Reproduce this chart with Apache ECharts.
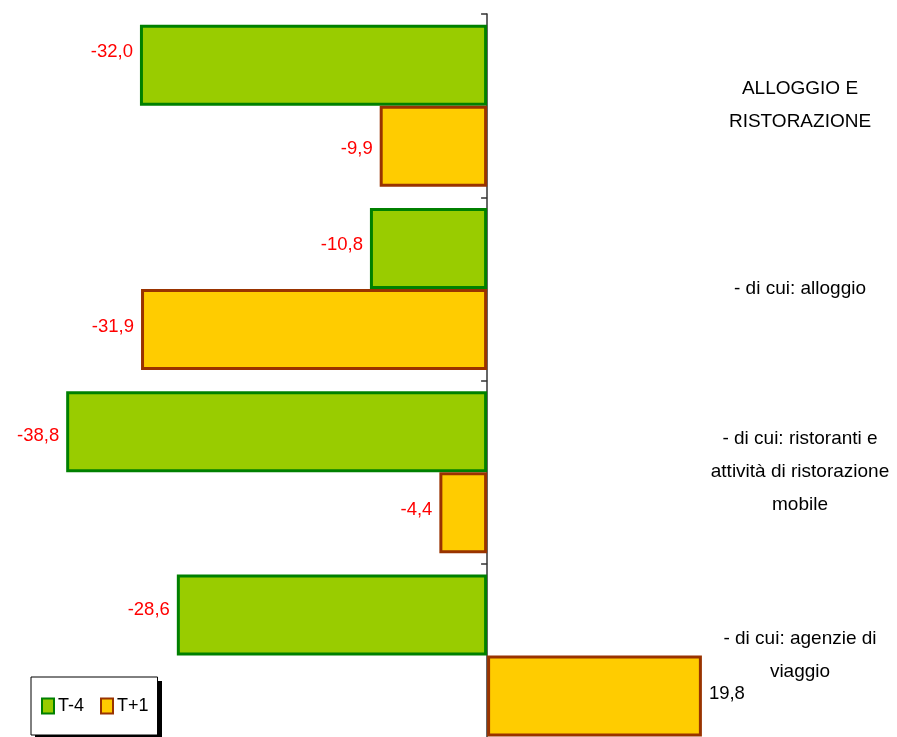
<!DOCTYPE html>
<html>
<head>
<meta charset="utf-8">
<script src="https://cdn.jsdelivr.net/npm/echarts@6/dist/echarts.min.js"></script>
<style>
html,body{margin:0;padding:0;background:#fff;}
#chart{width:897px;height:737px;}
</style>
</head>
<body>
<div id="chart"></div>
<script>
const categories = [
  'ALLOGGIO E\nRISTORAZIONE',
  '- di cui: alloggio',
  '- di cui: ristoranti e\nattività di ristorazione\nmobile',
  '- di cui: agenzie di\nviaggio'
];
const seriesNames = ['T-4', 'T+1'];
const valuesT4 = [-32.0, -10.8, -38.8, -28.6];
const valuesT1 = [-9.9, -31.9, -4.4, 19.8];

const FONT = '"Liberation Sans Narrow", "Arial Narrow", "Liberation Sans", sans-serif';
const fmt = v => v.toFixed(1).replace('.', ',');

function makeData(values, offsets) {
  return values.map((v, i) => ({
    value: v,
    label: {
      position: v < 0 ? 'left' : 'right',
      color: v < 0 ? '#FF0000' : '#000000',
      offset: [0, offsets[i]]
    }
  }));
}

const chart = echarts.init(document.getElementById('chart'), null, {renderer: 'canvas'});
chart.setOption({
  animation: false,
  backgroundColor: '#ffffff',
  grid: {left: 0, width: 716, top: 14, height: 733, containLabel: false, outerBoundsMode: 'none'},
  xAxis: {
    type: 'value', min: -44.9, max: 21.1, show: false
  },
  yAxis: [
    {
      type: 'category', data: categories, inverse: true, position: 'left',
      axisLine: {show: true, onZero: true, lineStyle: {color: '#333333', width: 1.5}},
      axisTick: {show: true, length: 6, lineStyle: {color: '#333333', width: 1.5}},
      axisLabel: {show: false},
      splitLine: {show: false}
    },
    {
      type: 'category', data: categories, inverse: true, position: 'right',
      axisLine: {show: false}, axisTick: {show: false}, splitLine: {show: false},
      axisLabel: {
        show: true, align: 'center', margin: 84,
        fontFamily: FONT, fontSize: 19, lineHeight: 33, color: '#000000'
      }
    }
  ],
  graphic: [
    {type: 'rect', left: 35, top: 681, z: -1, silent: true,
     shape: {width: 127, height: 58}, style: {fill: '#000000'}}
  ],
  legend: {
    left: 31, top: 677,
    padding: [20, 9, 20, 10],
    itemWidth: 12, itemHeight: 15, itemGap: 16,
    icon: 'rect',
    borderColor: '#000000', borderWidth: 1,
    backgroundColor: '#ffffff',
    textStyle: {fontFamily: FONT, fontSize: 18, color: '#000000', padding: [0, 0, 0, -1]},
    data: seriesNames
  },
  series: [
    {
      name: seriesNames[0], type: 'bar', yAxisIndex: 0,
      barWidth: 81, barGap: '0%',
      itemStyle: {color: '#99CC00', borderColor: '#008000', borderWidth: 3},
      label: {show: true, distance: 7, fontFamily: FONT, fontSize: 18.5, formatter: p => fmt(p.value)},
      data: makeData(valuesT4, [-13, -3, 4, -5])
    },
    {
      name: seriesNames[1], type: 'bar', yAxisIndex: 0,
      barWidth: 81, barGap: '0%',
      itemStyle: {color: '#FFCC00', borderColor: '#993300', borderWidth: 3},
      label: {show: true, distance: 7, fontFamily: FONT, fontSize: 18.5, formatter: p => fmt(p.value)},
      data: makeData(valuesT1, [3, -2, -3, -2])
    }
  ]
});
</script>
</body>
</html>
